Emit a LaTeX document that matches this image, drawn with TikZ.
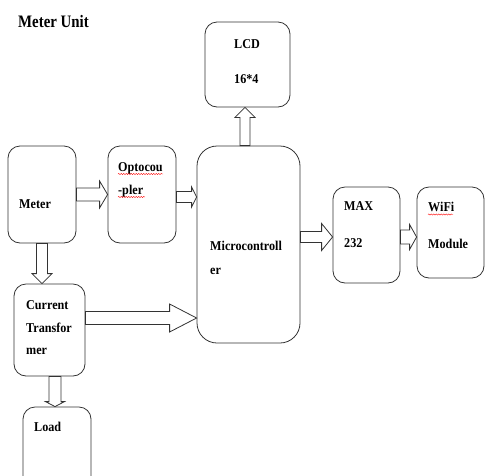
\documentclass[tikz,border=0pt]{standalone}
\usepackage{fontspec}
\setmainfont{Liberation Serif}
\newfontfamily\boxfont{Liberation Serif}[FakeStretch=0.9]
\newfontfamily\titlefont{Liberation Serif}[FakeStretch=0.85]
\usetikzlibrary{calc,decorations.pathmorphing}

\tikzset{
  blk/.style={draw=black!80, line width=0.8pt, rounded corners=12pt},
  lbl/.style={font=\boxfont\bfseries\fontsize{13.5}{24}\selectfont, align=left, anchor=north west, inner sep=0pt},
  fatarrow/.style={draw=black!80, line width=0.8pt, fill=white},
  squiggle/.style={red, line width=0.4pt, decorate, decoration={snake, amplitude=0.6pt, segment length=2.5pt}}
}

% hollow block arrow: from, to, shaft half width, head half width, head length
\newcommand{\blockarrow}[5]{%
  \coordinate (bas) at #1;
  \coordinate (bae) at #2;
  \coordinate (bah) at ($(bae)!#5!(bas)$);
  \draw[fatarrow] ($(bas)!#3!90:(bae)$) -- ($(bah)!#3!-90:(bas)$) -- ($(bah)!#4!-90:(bas)$)
    -- (bae) -- ($(bah)!#4!90:(bas)$) -- ($(bah)!#3!90:(bas)$) -- ($(bas)!#3!-90:(bae)$) -- cycle;}

\begin{document}
\begin{tikzpicture}[x=1pt,y=-1pt]
\useasboundingbox (0,0) rectangle (485,475);
\clip (0,0) rectangle (485,475);

% Title
\node[font=\titlefont\bfseries\fontsize{17.5}{18}\selectfont, anchor=west, inner sep=0pt] (title) at (18,21.5) {Meter Unit};

% Blocks
\node[blk, minimum width=85pt, minimum height=85pt] (lcd) at (247.5,64.5) {};
\node[blk, minimum width=68pt, minimum height=97pt] (meter) at (42,194.5) {};
\node[blk, minimum width=68pt, minimum height=97pt] (opto) at (142,194.5) {};
\node[blk, rounded corners=20pt, minimum width=103pt, minimum height=197pt] (micro) at (248.5,244.5) {};
\node[blk, minimum width=67pt, minimum height=96pt] (max) at (366.5,235) {};
\node[blk, minimum width=67pt, minimum height=91pt] (wifi) at (450.5,232.5) {};
\node[blk, minimum width=71pt, minimum height=92pt] (ct) at (49.5,330) {};
\node[blk, minimum width=68pt, minimum height=93pt] (load) at (57,453.5) {};

% Labels
\node[lbl] (lcdtxt) at (234,39.5) {LCD\\[11pt]16*4};
\node[lbl] (metertxt) at (19,199.5) {Meter};
\node[lbl] (optotxt) at (118,162) {Optocou\\[-0.7pt]-pler};
\node[lbl] (microtxt) at (210,240.5) {Microcontroll\\er};
\node[lbl] (maxtxt) at (344,201.5) {MAX\\[13pt]232};
\node[lbl] (wifitxt) at (428,201.5) {WiFi\\[13pt]Module};
\node[lbl] (cttxt) at (26,300.5) {Current\\[-1.5pt]Transfor\\[-1.5pt]mer};
\node[lbl] (loadtxt) at (34,422) {Load};

% Spell-check marks
\draw[squiggle] (118,174) -- (163,174);
\draw[squiggle] (118,197) -- (145,197);
\draw[squiggle] (428,214.5) -- (453,214.5);

% Block arrows
\blockarrow{(meter.east)}{(opto.west)}{6.5pt}{13.5pt}{8pt}
\coordinate (oc) at ($(opto.east)+(0,2.5)$);
\blockarrow{(oc)}{(oc -| micro.west)}{5.5pt}{10pt}{5pt}
\blockarrow{(meter.south)}{(meter.south |- ct.north)}{5.5pt}{10pt}{10pt}
\coordinate (cm) at ($(ct.east)+(0,-12)$);
\blockarrow{(cm)}{(cm -| micro.west)}{6.5pt}{14pt}{27pt}
\coordinate (ml) at ($(micro.north)+(-3.5,0)$);
\blockarrow{(ml)}{(ml |- lcd.south)}{5pt}{10pt}{10pt}
\coordinate (mm) at ($(micro.east)+(0,-7.5)$);
\blockarrow{(mm)}{(mm -| max.west)}{5.5pt}{13.5pt}{11pt}
\coordinate (mw) at ($(max.east)+(0,2)$);
\blockarrow{(mw)}{(mw -| wifi.west)}{7pt}{12.5pt}{7pt}
\coordinate (cl) at ($(ct.south)+(5.5,0)$);
\blockarrow{(cl)}{(cl |- load.north)}{6pt}{9.5pt}{5pt}
\end{tikzpicture}
\end{document}
